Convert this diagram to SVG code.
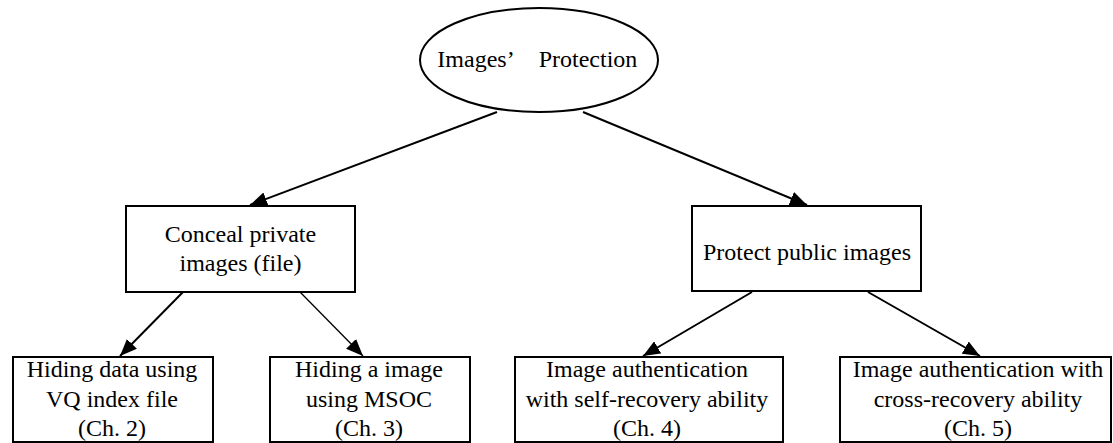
<svg xmlns="http://www.w3.org/2000/svg" width="1113" height="443" viewBox="0 0 1113 443">
  <style>
    .node { fill: #ffffff; stroke: #000000; stroke-width: 2; }
    .label { font-family: "Liberation Serif", "Times New Roman", serif; font-size: 24px; fill: #000000; text-anchor: middle; }
    .edge { stroke: #000000; stroke-width: 2; fill: none; marker-end: url(#arrow); }
    .edge.thin { stroke-width: 1.3; }
  </style>
  <defs>
    <marker id="arrow" markerUnits="userSpaceOnUse" markerWidth="18" markerHeight="14" refX="17" refY="7" orient="auto">
      <path d="M0,0 L17,7 L0,14 Z" fill="#000000"/>
    </marker>
  </defs>
  <rect width="1113" height="443" fill="#ffffff"/>

  <g id="connectors">
    <line class="edge" x1="497" y1="112" x2="250" y2="205"/>
    <line class="edge" x1="583" y1="112" x2="807" y2="205"/>
    <line class="edge" x1="183" y1="292" x2="120" y2="356"/>
    <line class="edge thin" x1="300" y1="292" x2="363" y2="356"/>
    <line class="edge" x1="752" y1="292" x2="643" y2="356"/>
    <line class="edge" x1="868" y1="292" x2="980" y2="356"/>
  </g>

  <g id="root">
    <ellipse class="node" cx="539" cy="60" rx="119" ry="52"/>
    <text class="label" y="67"><tspan x="476">Images’</tspan><tspan x="588">Protection</tspan></text>
  </g>

  <g id="conceal">
    <rect class="node" x="126" y="206" width="229" height="86"/>
    <text class="label" x="240.5" y="242">Conceal private</text>
    <text class="label" x="240.5" y="271">images (file)</text>
  </g>

  <g id="protect">
    <rect class="node" x="692" y="206" width="229" height="85"/>
    <text class="label" x="807" y="260">Protect public images</text>
  </g>

  <g id="vq">
    <rect class="node" x="13" y="357" width="200" height="85"/>
    <text class="label" x="112" y="377">Hiding data using</text>
    <text class="label" x="112" y="406.5">VQ index file</text>
    <text class="label" x="112" y="436">(Ch. 2)</text>
  </g>

  <g id="msoc">
    <rect class="node" x="270" y="357" width="200" height="85"/>
    <text class="label" x="369" y="377">Hiding a image</text>
    <text class="label" x="369" y="406.5">using MSOC</text>
    <text class="label" x="369" y="436">(Ch. 3)</text>
  </g>

  <g id="self-recovery">
    <rect class="node" x="515" y="357" width="268" height="85"/>
    <text class="label" x="647" y="377">Image authentication</text>
    <text class="label" x="647" y="406.5">with self-recovery ability</text>
    <text class="label" x="647" y="436">(Ch. 4)</text>
  </g>

  <g id="cross-recovery">
    <rect class="node" x="840" y="357" width="271" height="85"/>
    <text class="label" x="978" y="377">Image authentication with</text>
    <text class="label" x="978" y="406.5">cross-recovery ability</text>
    <text class="label" x="978" y="436">(Ch. 5)</text>
  </g>
</svg>
